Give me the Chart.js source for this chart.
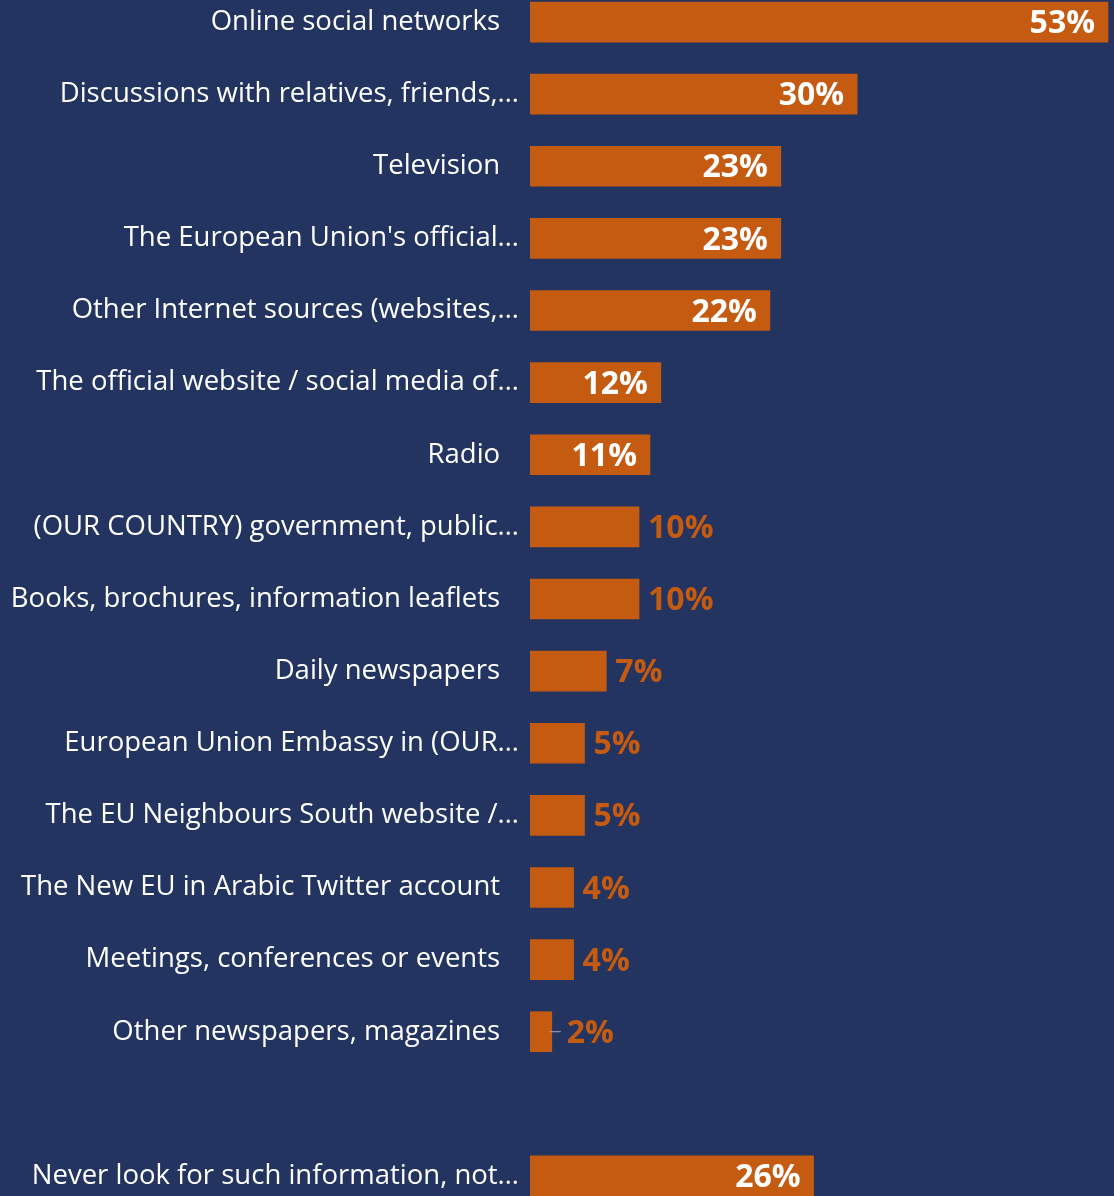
<!DOCTYPE html>
<html>
<head>
<meta charset="utf-8">
<script src="https://cdn.jsdelivr.net/npm/chart.js@4/dist/chart.umd.min.js"></script>
<style>
  html, body { margin: 0; padding: 0; background: #22345F; overflow: hidden; }
  #wrap { position: absolute; left: 0; top: -14px; width: 1114px; height: 1226px; }
</style>
</head>
<body>
<div id="wrap"><canvas id="bars" width="1114" height="1226"></canvas></div>
<script>
// categories and shares (%), the blank entry is the gap before the last row
var categories = [
  'Online social networks',
  'Discussions with relatives, friends,…',
  'Television',
  "The European Union's official…",
  'Other Internet sources (websites,…',
  'The official website / social media of…',
  'Radio',
  '(OUR COUNTRY) government, public…',
  'Books, brochures, information leaflets',
  'Daily newspapers',
  'European Union Embassy in (OUR…',
  'The EU Neighbours South website /…',
  'The New EU in Arabic Twitter account',
  'Meetings, conferences or events',
  'Other newspapers, magazines',
  '',
  'Never look for such information, not…'
];
var shares = [53, 30, 23, 23, 22, 12, 11, 10, 10, 7, 5, 5, 4, 4, 2, null, 26];

var orange = '#C55A11';
var labelFont = '"Open Sans", sans-serif';

// value labels: white inside the bar end for big bars, orange after the bar for small ones
var valueLabels = {
  id: 'valueLabels',
  afterDatasetsDraw: function (chart) {
    var ctx = chart.ctx;
    var meta = chart.getDatasetMeta(0);
    ctx.save();
    ctx.font = 'bold 32px ' + labelFont;
    ctx.textBaseline = 'middle';
    meta.data.forEach(function (bar, i) {
      var v = shares[i];
      if (v == null) return;
      var txt = v + '%';
      if (v >= 11) {
        ctx.fillStyle = '#ffffff';
        ctx.textAlign = 'right';
        ctx.fillText(txt, bar.x - 13, bar.y + 2);
      } else {
        var gap = 9;
        if (v < 3) {
          ctx.strokeStyle = '#A6A6B8';
          ctx.lineWidth = 1;
          ctx.beginPath();
          ctx.moveTo(bar.x - 2, bar.y);
          ctx.lineTo(bar.x + 9, bar.y);
          ctx.stroke();
          gap = 15;
        }
        ctx.fillStyle = orange;
        ctx.textAlign = 'left';
        ctx.fillText(txt, bar.x + gap, bar.y + 2);
      }
    });
    ctx.restore();
  }
};

new Chart(document.getElementById('bars').getContext('2d'), {
  type: 'bar',
  data: {
    labels: categories,
    datasets: [{
      data: shares,
      backgroundColor: orange,
      borderWidth: 0,
      barThickness: 40
    }]
  },
  options: {
    indexAxis: 'y',
    responsive: false,
    animation: false,
    layout: { padding: 0 },
    plugins: {
      legend: { display: false },
      tooltip: { enabled: false }
    },
    scales: {
      x: {
        display: false,
        min: 0,
        max: 53.55
      },
      y: {
        grid: { display: false, drawTicks: false },
        border: { display: false },
        afterFit: function (scale) {
          scale.width = 530;
          // no extra room above/below, rows fill the whole canvas height
          scale.paddingTop = 0;
          scale.paddingBottom = 0;
        },
        ticks: {
          color: '#ffffff',
          padding: 11,
          font: { family: 'Open Sans', size: 27.5 },
          // truncated labels run a bit further right, like the original
          callback: function (value, index) {
            var lbl = categories[index];
            return (lbl === '' || lbl.slice(-1) === '…') ? lbl : lbl + '  \u2009';
          }
        }
      }
    }
  },
  plugins: [valueLabels]
});
</script>
</body>
</html>
